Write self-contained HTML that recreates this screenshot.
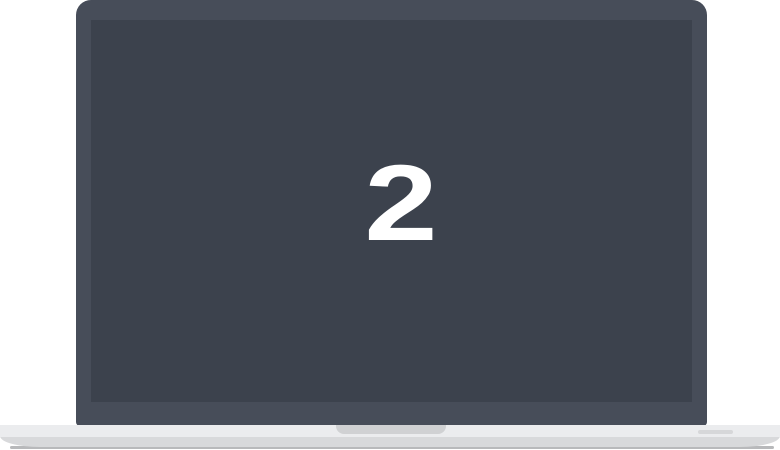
<!DOCTYPE html>
<html><head><meta charset="utf-8"><style>
html,body{margin:0;padding:0;background:#fff;}
#c{position:relative;width:780px;height:450px;overflow:hidden;background:#fff;}
#c div{position:absolute;}
</style></head><body>
<div id="c">
  <div style="left:76px;top:0;width:631px;height:426px;background:#474d59;border-radius:15px 15px 4px 4px;"></div>
  <div style="left:91px;top:20px;width:601px;height:382px;background:#3c424d;"></div>
  <div style="left:301px;top:143px;width:200px;text-align:center;color:#fff;font:bold 108px 'Liberation Sans',sans-serif;line-height:120px;transform:scaleX(1.22);">2</div>
  <div style="left:10px;top:446px;width:764px;height:3px;background:#b8b9bb;border-radius:2px;"></div>
  <div style="left:0;top:436px;width:780px;height:11px;background:#d8d9db;border-radius:0 0 40px 40px / 0 0 11px 11px;"></div>
  <div style="left:0;top:425px;width:780px;height:12px;background:#ebecee;"></div>
  <div style="left:336px;top:425px;width:110px;height:9px;background:#d0d1d3;border-radius:0 0 8px 8px;"></div>
  <div style="left:698px;top:430px;width:35px;height:4px;background:#d6d7d9;border-radius:2px;"></div>
</div>
</body></html>
